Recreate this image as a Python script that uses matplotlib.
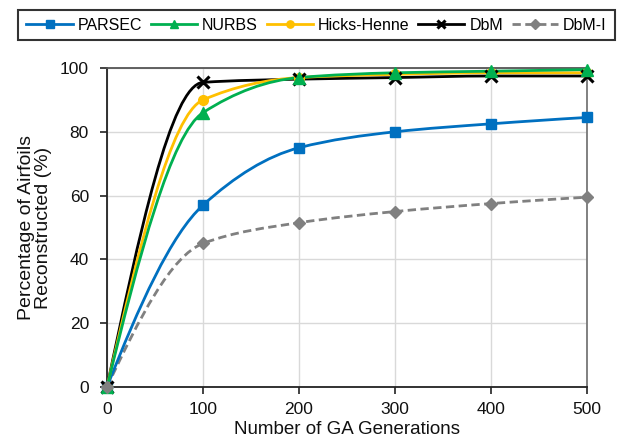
import matplotlib
matplotlib.use("Agg")
import matplotlib.pyplot as plt
from matplotlib.path import Path
from matplotlib.patches import PathPatch
from matplotlib.lines import Line2D
import numpy as np

generations = [0, 100, 200, 300, 400, 500]
parsec = [0, 57, 75, 80, 82.5, 84.5]
nurbs = [0, 86, 97, 98.5, 99, 99.5]
hicks_henne = [0, 90, 97, 98, 98.5, 98.5]
dbm = [0, 95.5, 96.5, 97, 97.5, 97.5]
dbm_i = [0, 45, 51.5, 55, 57.5, 59.5]

series_names = ["PARSEC", "NURBS", "Hicks-Henne", "DbM", "DbM-I"]
series_values = [parsec, nurbs, hicks_henne, dbm, dbm_i]
colors = ["#0070C0", "#00B050", "#FFC000", "#000000", "#808080"]
markers = ["s", "^", "o", "x", "D"]
msizes = [7, 8, 7, 8, 6.5]
styles = ["-", "-", "-", "-", (0, (3, 1.6))]

plt.rcParams["font.family"] = ["Liberation Sans", "DejaVu Sans"]

fig = plt.figure(figsize=(6.24, 4.45), dpi=100)
ax = fig.add_axes([107 / 624, 1 - 387 / 445, 480 / 624, 319 / 445])


def pchip_tangents(x, y):
    h = np.diff(x)
    d = np.diff(y) / h
    n = len(x)
    m = np.zeros(n)
    for k in range(1, n - 1):
        if d[k - 1] * d[k] <= 0:
            m[k] = 0.0
        else:
            w1 = 2 * h[k] + h[k - 1]
            w2 = h[k] + 2 * h[k - 1]
            m[k] = (w1 + w2) / (w1 / d[k - 1] + w2 / d[k])
    m0 = ((2 * h[0] + h[1]) * d[0] - h[0] * d[1]) / (h[0] + h[1])
    m[0] = m0 if np.sign(m0) == np.sign(d[0]) else 0.0
    mn = ((2 * h[-1] + h[-2]) * d[-1] - h[-1] * d[-2]) / (h[-1] + h[-2])
    m[-1] = mn if np.sign(mn) == np.sign(d[-1]) else 0.0
    return m


def smooth_path(xs, ys):
    x = np.asarray(xs, float)
    y = np.asarray(ys, float)
    m = pchip_tangents(x, y)
    verts = [(x[0], y[0])]
    codes = [Path.MOVETO]
    for i in range(len(x) - 1):
        h = x[i + 1] - x[i]
        verts += [(x[i] + h / 3, y[i] + m[i] * h / 3),
                  (x[i + 1] - h / 3, y[i + 1] - m[i + 1] * h / 3),
                  (x[i + 1], y[i + 1])]
        codes += [Path.CURVE4] * 3
    return Path(verts, codes)


order = [4, 0, 3, 2, 1]
for k, i in enumerate(order):
    patch = PathPatch(smooth_path(generations, series_values[i]), facecolor="none",
                      edgecolor=colors[i], lw=2.0, linestyle=styles[i],
                      transform=ax.transData, zorder=3 + k * 0.1, capstyle="butt")
    ax.add_patch(patch)

for k, i in enumerate([0, 2, 3, 1, 4]):
    ax.plot(generations, series_values[i], linestyle="none", marker=markers[i],
            markersize=msizes[i], color=colors[i], markeredgecolor=colors[i],
            markeredgewidth=2.2 if markers[i] == "x" else 1.0,
            zorder=5 + k * 0.1, clip_on=False)

ax.set_xlim(0, 500)
ax.set_ylim(0, 100)
ax.set_xticks([0, 100, 200, 300, 400, 500])
ax.set_yticks([0, 20, 40, 60, 80, 100])
ax.grid(True, color="#d9d9d9", lw=1.0, zorder=0)
ax.set_axisbelow(True)
for s in ["left", "bottom"]:
    ax.spines[s].set_color("#222222")
    ax.spines[s].set_linewidth(1.3)
ax.spines["right"].set_color("#777777")
ax.spines["right"].set_linewidth(1.3)
ax.spines["top"].set_color("#555555")
ax.spines["top"].set_linewidth(1.3)
ax.tick_params(axis="both", direction="out", length=5, width=1.2, color="#222222",
               labelsize=12.5, labelcolor="#111111")
ax.tick_params(axis="y", pad=8)
ax.tick_params(axis="x", pad=6)

ax.set_xlabel("Number of GA Generations", fontsize=13.5, color="#111111", labelpad=3)
ax.set_ylabel("Percentage of Airfoils\nReconstructed (%)", fontsize=14,
              color="#111111", labelpad=6, linespacing=1.0)

handles = [Line2D([0], [0], color=colors[i], lw=2.0, linestyle=styles[i],
                  marker=markers[i], markersize=msizes[i] * 0.75,
                  markeredgewidth=2.2 if markers[i] == "x" else 1.0)
           for i in range(5)]
leg = fig.legend(handles, series_names, loc="center", bbox_to_anchor=(316.5 / 624, 1 - 25 / 445),
                 ncol=5, frameon=True, fancybox=False, edgecolor="#000000",
                 fontsize=11.5, handlelength=2.9, handletextpad=0.3, columnspacing=0.55,
                 borderpad=0.5, borderaxespad=0)
leg.get_frame().set_linewidth(1.5)

fig.savefig("out.png", dpi=100)
